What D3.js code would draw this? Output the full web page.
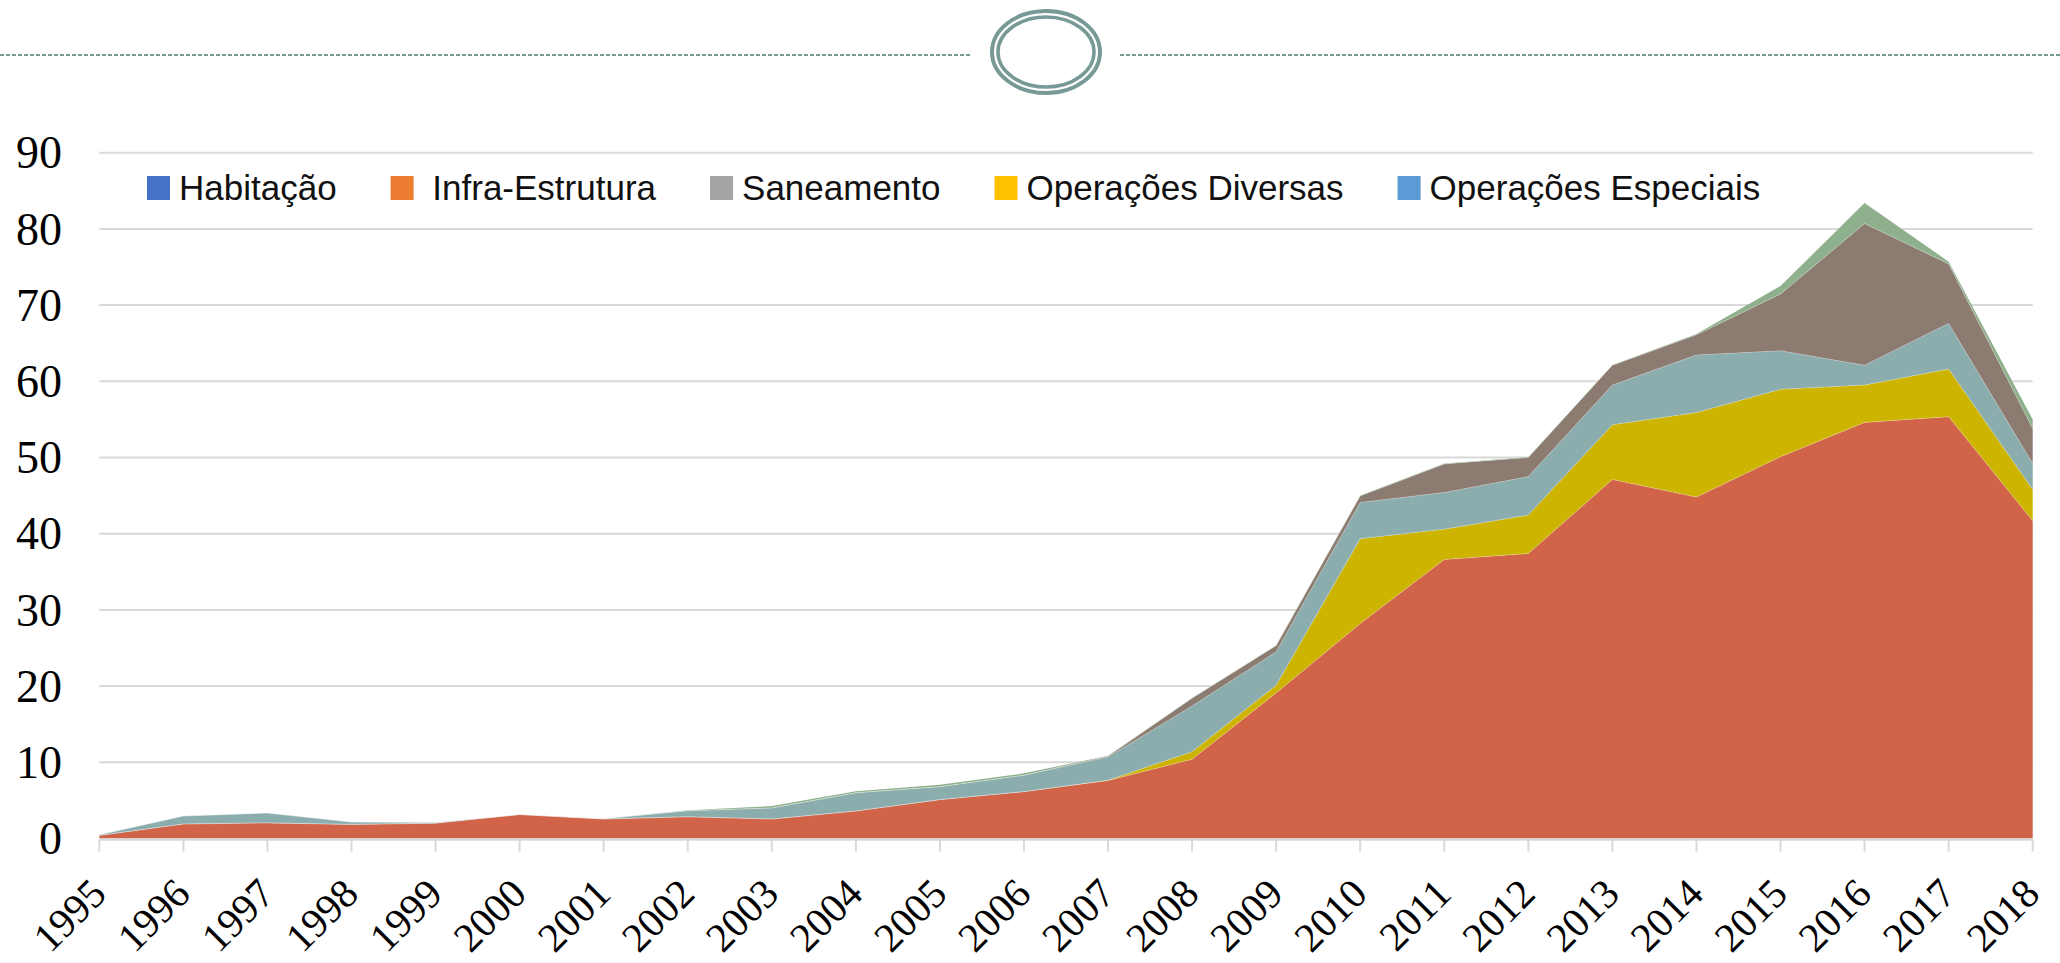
<!DOCTYPE html>
<html>
<head>
<meta charset="utf-8">
<script src="https://cdnjs.cloudflare.com/ajax/libs/d3/7.8.5/d3.min.js"></script>
<style>
body { margin: 0; background: #fff; }
svg { display: block; }
</style>
</head>
<body>
<svg width="2060" height="963"></svg>
<script>
var years = [1995, 1996, 1997, 1998, 1999, 2000, 2001, 2002, 2003, 2004, 2005, 2006,
             2007, 2008, 2009, 2010, 2011, 2012, 2013, 2014, 2015, 2016, 2017, 2018];

// stacked from the bottom up
var habitacao          = [0.4, 1.9, 2.05, 1.85, 2.0, 3.15, 2.55, 2.85, 2.55, 3.6, 5.1, 6.15,
                          7.6, 10.4, 19.1, 28.2, 36.6, 37.4, 47.1, 44.8, 50.1, 54.6, 55.35, 41.7];
var infraEstrutura     = [0, 0, 0, 0, 0, 0, 0, 0, 0, 0, 0, 0,
                          0.05, 1.0, 1.0, 11.15, 4.0, 5.05, 7.2, 11.1, 8.85, 4.9, 6.25, 4.1];
var saneamento         = [0.1, 1.05, 1.3, 0.3, 0.1, 0, 0.05, 0.8, 1.45, 2.4, 1.7, 2.15,
                          3.05, 6.0, 4.4, 4.75, 4.8, 5.05, 5.2, 7.55, 5.05, 2.6, 6.0, 3.4];
var operacoesDiversas  = [0, 0, 0, 0, 0, 0, 0, 0, 0, 0, 0, 0,
                          0.1, 1.0, 0.8, 0.85, 3.75, 2.5, 2.6, 2.65, 7.45, 18.6, 7.8, 4.6];
var operacoesEspeciais = [0, 0, 0, 0, 0, 0, 0, 0.05, 0.25, 0.2, 0.25, 0.25,
                          0.05, 0.05, 0.05, 0.05, 0.05, 0.05, 0.05, 0.1, 1.05, 2.7, 0.3, 1.2];

var seriesNames = ["Habitação", " Infra-Estrutura", "Saneamento", "Operações Diversas", "Operações Especiais"];
var areaColors = ["#D16349", "#CCB400", "#8CADAE", "#8C7B70", "#8FB08C"];
var legendColors = ["#4472C4", "#ED7D31", "#A5A5A5", "#FFC000", "#5B9BD5"];
var yTicks = [0, 10, 20, 30, 40, 50, 60, 70, 80, 90];

var svg = d3.select("svg"),
    width = +svg.attr("width"),
    height = +svg.attr("height");

svg.append("rect").attr("width", width).attr("height", height).attr("fill", "#fff");

// header ornament
var orn = svg.append("g").attr("stroke", "#789A97").attr("fill", "none");
orn.append("line").attr("x1", 0).attr("x2", 970).attr("y1", 55).attr("y2", 55)
    .attr("stroke-width", 2).attr("stroke-dasharray", "4,2");
orn.append("line").attr("x1", 1120).attr("x2", width).attr("y1", 55).attr("y2", 55)
    .attr("stroke-width", 2).attr("stroke-dasharray", "4,2");
orn.append("ellipse").attr("cx", 1046).attr("cy", 52).attr("rx", 54).attr("ry", 41).attr("stroke-width", 4);
orn.append("ellipse").attr("cx", 1046).attr("cy", 52).attr("rx", 48).attr("ry", 35).attr("stroke-width", 3.5);

var x = d3.scaleLinear().domain([1995, 2018]).range([99.3, 2032.7]);
var y = d3.scaleLinear().domain([0, 90]).range([838.5, 152.7]);

// gridlines
svg.append("g")
    .selectAll("line")
    .data(yTicks.slice(1))
    .enter().append("line")
    .attr("x1", x(1995)).attr("x2", x(2018))
    .attr("y1", function(d) { return y(d); })
    .attr("y2", function(d) { return y(d); })
    .attr("stroke", "#D9D9D9").attr("stroke-width", 2);

// data table
var table = years.map(function(yr, i) {
    var row = { year: yr };
    row[seriesNames[0]] = habitacao[i];
    row[seriesNames[1]] = infraEstrutura[i];
    row[seriesNames[2]] = saneamento[i];
    row[seriesNames[3]] = operacoesDiversas[i];
    row[seriesNames[4]] = operacoesEspeciais[i];
    return row;
});

var stacked = d3.stack().keys(seriesNames)(table);

var area = d3.area()
    .x(function(d) { return x(d.data.year); })
    .y0(function(d) { return y(d[0]); })
    .y1(function(d) { return y(d[1]); });

var topLine = d3.line()
    .x(function(d) { return x(d.data.year); })
    .y(function(d) { return y(d[1]); });

svg.append("g")
    .selectAll("path")
    .data(stacked)
    .enter().append("path")
    .attr("d", area)
    .attr("fill", function(d, i) { return areaColors[i]; });

// faint seams between layers
svg.append("g")
    .selectAll("path")
    .data(stacked.slice(0, 4))
    .enter().append("path")
    .attr("d", topLine)
    .attr("fill", "none")
    .attr("stroke", "#fff")
    .attr("stroke-opacity", 0.3)
    .attr("stroke-width", 0.8);

// x axis line and ticks
svg.append("line")
    .attr("x1", x(1995)).attr("x2", x(2018))
    .attr("y1", y(0) + 1).attr("y2", y(0) + 1)
    .attr("stroke", "#D9D9D9").attr("stroke-width", 2.5);

svg.append("g")
    .selectAll("line")
    .data(years)
    .enter().append("line")
    .attr("x1", function(d) { return x(d); })
    .attr("x2", function(d) { return x(d); })
    .attr("y1", y(0) + 1).attr("y2", y(0) + 13)
    .attr("stroke", "#D9D9D9").attr("stroke-width", 2);

// y labels
svg.append("g")
    .selectAll("text")
    .data(yTicks)
    .enter().append("text")
    .attr("x", 62)
    .attr("y", function(d) { return y(d); })
    .attr("dy", "0.34em")
    .attr("text-anchor", "end")
    .style("font-family", "'Liberation Serif', 'Times New Roman', serif")
    .style("font-size", "46px")
    .attr("fill", "#000")
    .text(function(d) { return d; });

// x labels
svg.append("g")
    .selectAll("text")
    .data(years)
    .enter().append("text")
    .attr("transform", function(d) { return "translate(" + (x(d) + 9) + ",896) rotate(-45)"; })
    .attr("text-anchor", "end")
    .style("font-family", "'Liberation Serif', 'Times New Roman', serif")
    .style("font-size", "41px")
    .attr("fill", "#000")
    .text(function(d) { return d; });

// legend
var legend = svg.append("g")
    .style("font-family", "'Liberation Sans', Arial, sans-serif")
    .style("font-size", "35px");

var lx = 147;
seriesNames.forEach(function(name, i) {
    legend.append("rect")
        .attr("x", lx).attr("y", 176)
        .attr("width", 23).attr("height", 24)
        .attr("fill", legendColors[i]);
    var t = legend.append("text")
        .attr("x", lx + 32).attr("y", 200)
        .attr("fill", "#111")
        .attr("xml:space", "preserve")
        .style("white-space", "pre")
        .text(name);
    lx = lx + 32 + t.node().getComputedTextLength() + 54;
});
</script>
</body>
</html>
